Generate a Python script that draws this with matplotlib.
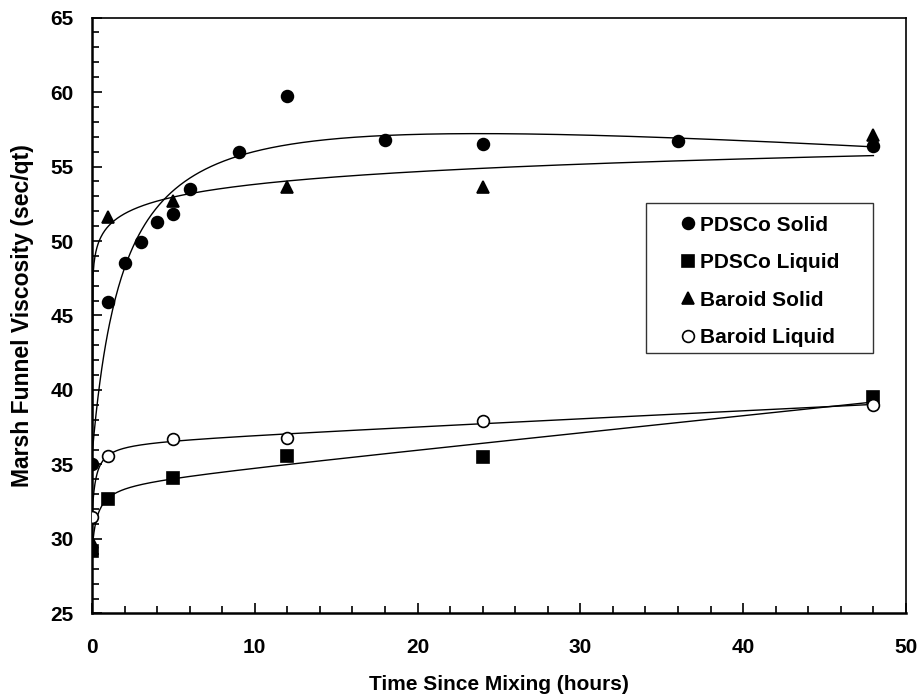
import numpy as np
import matplotlib.pyplot as plt
from matplotlib.patches import Rectangle
from matplotlib.ticker import MultipleLocator

plt.rcParams['font.family'] = ['Liberation Sans', 'DejaVu Sans']
plt.rcParams['font.weight'] = 'bold'

# --- Marsh funnel viscosity (sec/qt) vs hours since mixing ---
pdsco_solid_t = [0, 1, 2, 3, 4, 5, 6, 9, 12, 18, 24, 36, 48]
pdsco_solid_v = [35.0, 45.9, 48.5, 49.9, 51.3, 51.8, 53.5, 56.0, 59.7, 56.8, 56.5, 56.7, 56.4]

pdsco_liquid_t = [0, 1, 5, 12, 24, 48]
pdsco_liquid_v = [29.2, 32.7, 34.1, 35.6, 35.5, 39.5]

baroid_solid_t = [0, 1, 5, 12, 24, 48]
baroid_solid_v = [29.8, 51.6, 52.7, 53.6, 53.6, 57.1]

baroid_liquid_t = [0, 1, 5, 12, 24, 48]
baroid_liquid_v = [31.5, 35.6, 36.7, 36.8, 37.9, 39.0]


def grid_fit(t, v, basis, p1, p2):
    """Linear least squares on basis(t, p, q), grid search over the two shape params."""
    t = np.asarray(t, float)
    v = np.asarray(v, float)
    best = None
    for p in p1:
        for q in p2:
            A = basis(t, p, q)
            coef, *_ = np.linalg.lstsq(A, v, rcond=None)
            sse = np.sum((A @ coef - v) ** 2)
            if best is None or sse < best[0]:
                best = (sse, p, q, coef)
    _, p, q, coef = best
    return lambda x: basis(np.asarray(x, float), p, q) @ coef


def fit_mm_linear(t, v):
    # y = a + b*t + c*t/(K + t)
    return grid_fit(t, v, lambda x, K, _: np.column_stack([np.ones_like(x), x, x / (K + x)]),
                    np.logspace(-0.7, 1.5, 200), [1])


def fit_mmf(t, v):
    # y = a + c*t^n/(K^n + t^n)
    return grid_fit(t, v, lambda x, K, n: np.column_stack([np.ones_like(x), x**n / (K**n + x**n)]),
                    np.logspace(-3, 4, 200), np.linspace(0.1, 4.0, 79))


series = [
    ("PDSCo Solid", pdsco_solid_t, pdsco_solid_v, fit_mm_linear, dict(marker="o", mfc="black")),
    ("PDSCo Liquid", pdsco_liquid_t, pdsco_liquid_v, fit_mm_linear, dict(marker="s", mfc="black", markersize=8)),
    ("Baroid Solid", baroid_solid_t, baroid_solid_v, fit_mmf, dict(marker="^", mfc="black")),
    ("Baroid Liquid", baroid_liquid_t, baroid_liquid_v, fit_mm_linear, dict(marker="o", mfc="white")),
]

fig = plt.figure(figsize=(9.22, 6.98), dpi=100)
ax = fig.add_axes([0.0998, 0.1211, 0.8828, 0.8538])

# fitted trend curves
tt = np.linspace(0, 48, 800)
for label, t, v, fit, style in series:
    curve = fit(t, v)
    ax.plot(tt, curve(tt), color="black", linewidth=1.0, zorder=2)

# data points
for label, t, v, fit, style in series:
    kw = dict(markersize=8.5, mec="black", mew=1.2)
    kw.update(style)
    ax.plot(t, v, linestyle="none", label=label, zorder=3, **kw)

ax.set_xlim(0, 50)
ax.set_ylim(25, 65)
ax.xaxis.set_major_locator(MultipleLocator(10))
ax.xaxis.set_minor_locator(MultipleLocator(2))
ax.yaxis.set_major_locator(MultipleLocator(5))
ax.yaxis.set_minor_locator(MultipleLocator(1))
ax.tick_params(which="both", direction="in", top=False, right=False,
               labelsize=15, width=1.2)
ax.tick_params(axis="x", which="major", length=7, pad=17.5)
ax.tick_params(axis="y", which="major", length=7, pad=13)
ax.tick_params(which="minor", length=5)
for side in ("left", "bottom"):
    ax.spines[side].set_linewidth(1.8)
for side in ("top", "right"):
    ax.spines[side].set_linewidth(1.2)

ax.set_xlabel("Time Since Mixing (hours)", fontsize=15, fontweight="bold", labelpad=13)
ax.set_ylabel("Marsh Funnel Viscosity (sec/qt)", fontsize=16.5, fontweight="bold", labelpad=12)

# legend box
ax.add_patch(Rectangle((0.6806, 0.4371), 0.2789, 0.2517, transform=ax.transAxes,
                       facecolor="white", edgecolor="#333333", linewidth=1.0, zorder=4))
leg = ax.legend(loc="upper left", bbox_to_anchor=(0.7245, 0.6677), fontsize=15,
                frameon=False, borderpad=0, borderaxespad=0, handlelength=0.6,
                handletextpad=0.28, labelspacing=0.89)
leg.set_zorder(5)

fig.savefig("out.png", dpi=100)
